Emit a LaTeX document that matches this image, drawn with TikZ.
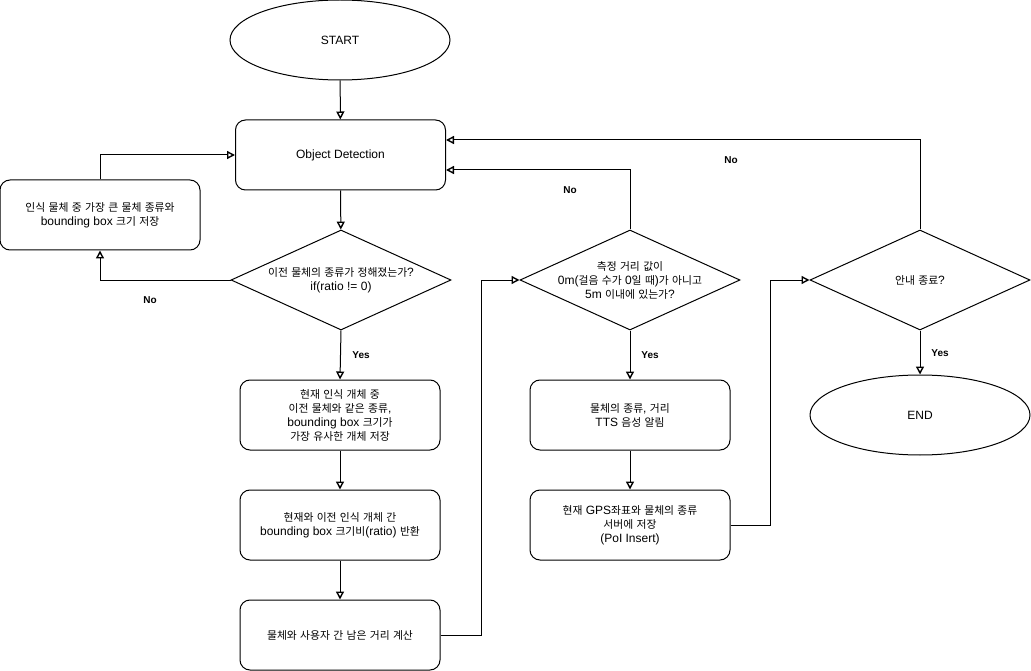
\documentclass[tikz,border=0pt]{standalone}
\usepackage{fontspec}
\setmainfont{Liberation Sans}
\newfontfamily\latinfont{Liberation Sans}
\newfontfamily\krfont[Scale=0.9]{Noto Sans CJK KR}
\usetikzlibrary{shapes.geometric,arrows.meta}
\XeTeXinterchartokenstate=1
\newXeTeXintercharclass\KrClass
\newcount\krcnt
\krcnt="AC00
\loop
\XeTeXcharclass\krcnt=\KrClass
\ifnum\krcnt<"D7A3 \advance\krcnt by 1 \repeat
\XeTeXinterchartoks 0 \KrClass = {\krfont}
\XeTeXinterchartoks 4095 \KrClass = {\krfont}
\XeTeXinterchartoks \KrClass 0 = {\latinfont}
\XeTeXinterchartoks \KrClass 4095 = {\latinfont}
\begin{document}
\begin{tikzpicture}[x=1pt,y=-1pt,
  font=\fontsize{12}{14}\selectfont,
  box/.style={draw, line width=1pt, rounded corners=10pt, minimum width=200pt, minimum height=70pt, align=center, inner sep=0pt},
  term/.style={draw, line width=1pt, ellipse, minimum width=220pt, minimum height=80pt, inner sep=0pt},
  dia/.style={draw, line width=1pt, diamond, minimum width=220pt, minimum height=100pt, inner sep=0pt},
  conn/.style={draw, line width=1pt, -{Triangle[open,length=8pt,width=8pt,line width=1.4pt]}},
  lbl/.style={font=\fontsize{10}{12}\selectfont\bfseries, inner sep=0pt}]
\useasboundingbox (0,0) rectangle (1031,671);
\fill[white] (0,0) rectangle (1031,671);

\node[term] (start) at (340,40) {START};
\node[box, minimum width=210pt] (od) at (340.5,155) {Object Detection};
\node[box] (lb) at (100,215) {인식 물체 중 가장 큰 물체 종류와\\bounding box 크기 저장};
\node[dia, label={[align=center]center:{이전 물체의 종류가 정해졌는가?\\if(ratio != 0)}}] (d1) at (341,280) {};
\node[box] (b2) at (340,415) {현재 인식 개체 중\\이전 물체와 같은 종류,\\bounding box 크기가\\가장 유사한 개체 저장};
\node[box] (b3) at (340,525) {현재와 이전 인식 개체 간\\bounding box 크기비(ratio) 반환};
\node[box] (b4) at (340,635) {물체와 사용자 간 남은 거리 계산};
\node[dia, label={[align=center]center:{측정 거리 값이\\0m(걸음 수가 0일 때)가 아니고\\5m 이내에 있는가?}}] (d2) at (630,280) {};
\node[box] (b5) at (630,415) {물체의 종류, 거리\\TTS 음성 알림};
\node[box] (b6) at (630,525) {현재 GPS좌표와 물체의 종류\\서버에 저장\\(PoI Insert)};
\node[dia, label={center:안내 종료?}] (d3) at (920,280) {};
\node[term] (end) at (920,415) {END};

\draw[conn] (start) -- (od);
\draw[conn] (od) -- (d1);
\draw[conn] (d1.west) -| (lb.south);
\draw[conn] (lb.north) |- (od.west);
\draw[conn] (d1.south) -- (b2.north);
\draw[conn] (b2) -- (b3);
\draw[conn] (b3) -- (b4);
\draw[conn] (b4.east) -- ++(41,0) |- (d2.west);
\draw[conn] (d2.north) |- ([yshift=-15pt]od.east);
\draw[conn] (d2.south) -- (b5.north);
\draw[conn] (b5) -- (b6);
\draw[conn] (b6.east) -- ++(40,0) |- (d3.west);
\draw[conn] (d3.north) |- ([yshift=15pt]od.east);
\draw[conn] (d3.south) -- (end.north);

\node[lbl] (no1) at (150,300) {No};
\node[lbl] (yes1) at (361,355) {Yes};
\node[lbl] (no2) at (570,190) {No};
\node[lbl] (yes2) at (650,355) {Yes};
\node[lbl] (no3) at (731,160) {No};
\node[lbl] (yes3) at (940,353) {Yes};
\end{tikzpicture}
\end{document}
